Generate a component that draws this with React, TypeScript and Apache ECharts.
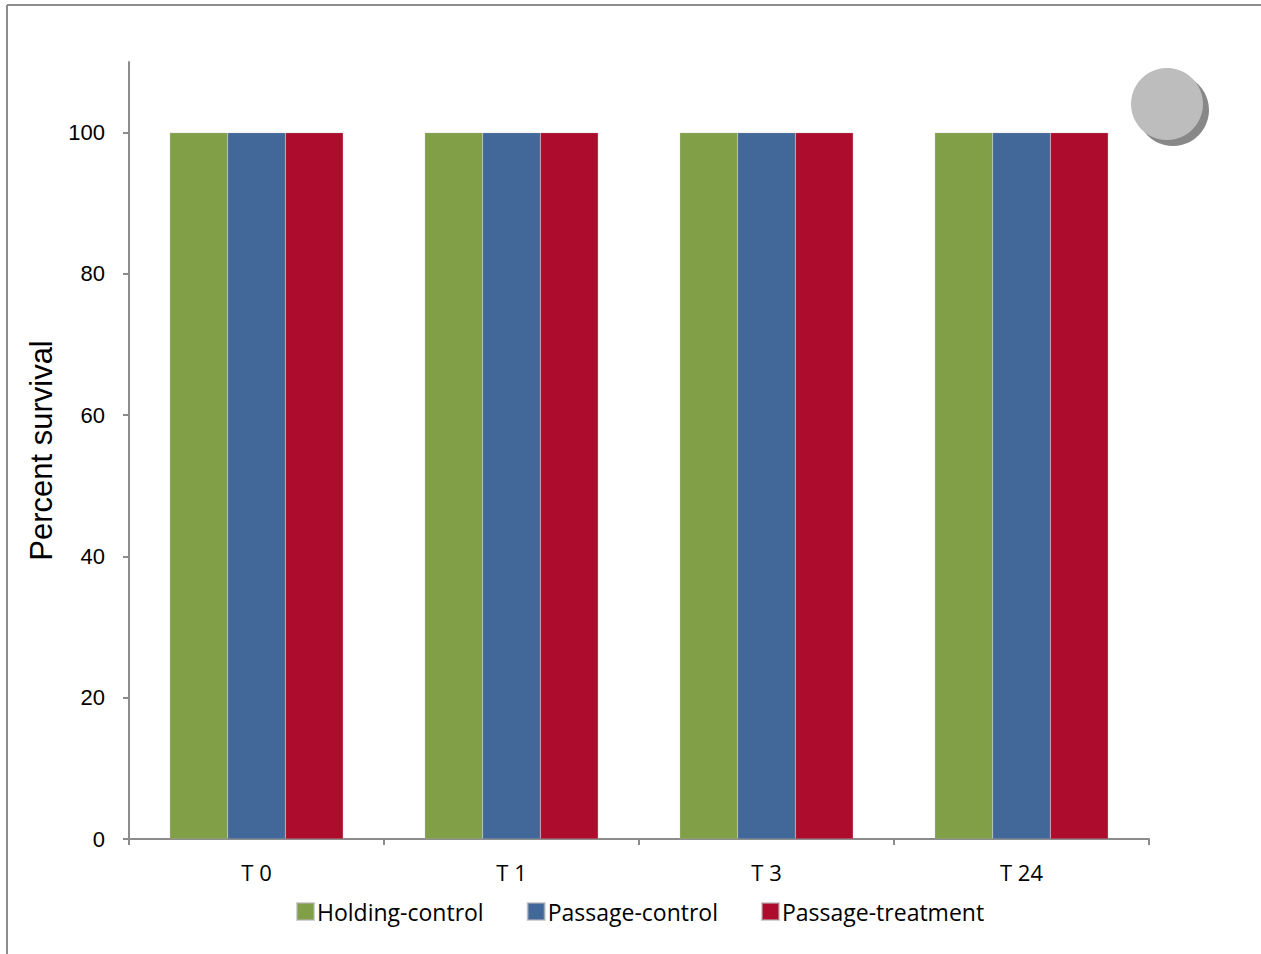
import React, { useEffect, useRef } from "react";
import * as echarts from "echarts";

const categories = ["T 0", "T 1", "T 3", "T 24"];
const holdingControl = [100, 100, 100, 100];
const passageControl = [100, 100, 100, 100];
const passageTreatment = [100, 100, 100, 100];
const yTicks = [0, 20, 40, 60, 80, 100];

const seriesNames = ["Holding-control", "Passage-control", "Passage-treatment"];
const seriesColors = ["#809f47", "#416899", "#ae0c2c"];

export default function App() {
  const ref = useRef<HTMLDivElement>(null);
  useEffect(() => {
    document.body.style.margin = "0";
    const chart = echarts.init(ref.current!, null, { renderer: "svg" });
    const data = [holdingControl, passageControl, passageTreatment];
    chart.setOption({
      animation: false,
      backgroundColor: "#ffffff",
      grid: { left: 129, right: 112, top: 62, bottom: 115, containLabel: false },
      legend: {
        left: 296,
        top: 900,
        padding: 0,
        icon: "rect",
        itemWidth: 17,
        itemHeight: 17,
        itemGap: 43,
        textStyle: { fontFamily: "Open Sans", fontSize: 23, color: "#000", padding: [0, 0, 0, -2] },
        data: seriesNames,
      },
      xAxis: {
        type: "category",
        data: categories,
        axisLine: { lineStyle: { color: "#8c8c8c", width: 2 } },
        axisTick: { show: true, length: 6, lineStyle: { color: "#8c8c8c", width: 2 } },
        axisLabel: { fontFamily: "Open Sans", fontSize: 22, color: "#000", margin: 22 },
      },
      yAxis: {
        type: "value",
        min: 0,
        max: 110,
        interval: 10,
        name: "Percent survival",
        nameLocation: "middle",
        nameGap: 68,
        nameTextStyle: { fontFamily: "Liberation Sans", fontSize: 31, color: "#000" },
        axisLine: { show: true, lineStyle: { color: "#8c8c8c", width: 2 } },
        axisTick: { show: true, length: 6, customValues: yTicks, lineStyle: { color: "#8c8c8c", width: 2 } },
        axisLabel: {
          fontFamily: "Liberation Sans",
          fontSize: 22,
          color: "#000",
          margin: 24,
          customValues: yTicks,
        },
        splitLine: { show: false },
      },
      series: seriesNames.map((name, i) => ({
        name,
        type: "bar",
        data: data[i],
        barGap: "0%",
        barCategoryGap: "32%",
        itemStyle: { color: seriesColors[i], borderColor: "rgba(180,180,180,0.6)", borderWidth: 0.5 },
      })),
      graphic: [
        { type: "line", shape: { x1: 7, y1: 5, x2: 1261, y2: 5 }, style: { stroke: "#8c8c8c", lineWidth: 2 } },
        { type: "line", shape: { x1: 7, y1: 5, x2: 7, y2: 954 }, style: { stroke: "#8c8c8c", lineWidth: 2 } },
        { type: "circle", shape: { cx: 1173, cy: 110, r: 36 }, style: { fill: "#888888" } },
        { type: "rect", shape: { x: 1210, y: 60, width: 40, height: 100 }, style: { fill: "#ffffff" } },
        { type: "circle", shape: { cx: 1167, cy: 104, r: 36 }, style: { fill: "#bdbdbd" } },
      ],
    });
    return () => chart.dispose();
  }, []);
  return <div ref={ref} style={{ width: 1261, height: 954 }} />;
}
